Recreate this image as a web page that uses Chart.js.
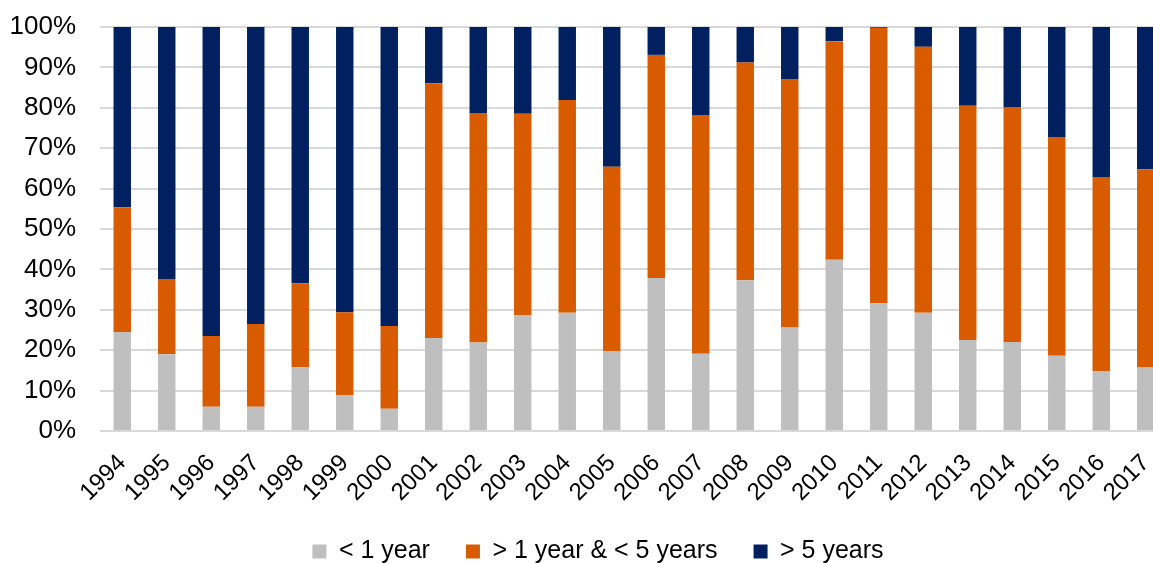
<!DOCTYPE html>
<html>
<head>
<meta charset="utf-8">
<script src="https://cdn.jsdelivr.net/npm/chart.js@4"></script>
<style>
  html, body { margin: 0; padding: 0; background: #fff; overflow: hidden; }
  #wrap { width: 1168px; height: 563px; position: relative; }
</style>
</head>
<body>
<div id="wrap"><canvas id="maturity_chart"></canvas></div>
<script>
const years = ['1994', '1995', '1996', '1997', '1998', '1999', '2000', '2001', '2002', '2003', '2004', '2005',
    '2006', '2007', '2008', '2009', '2010', '2011', '2012', '2013', '2014', '2015', '2016', '2017'];

// share of each maturity bucket, in percent
const underOne = [24.5, 19.0, 6.0, 6.0, 15.8, 8.9, 5.5, 23.0, 21.9, 28.7, 29.3, 19.8,
    37.9, 19.1, 37.3, 25.6, 42.4, 31.6, 29.3, 22.5, 22.0, 18.6, 14.8, 15.7];
const oneToFive = [30.9, 18.6, 17.5, 20.5, 20.8, 20.5, 20.5, 63.1, 56.8, 49.8, 52.6, 45.6,
    55.2, 59.1, 53.9, 61.5, 54.1, 68.2, 65.8, 58.0, 58.2, 54.2, 48.1, 49.1];
const overFive = [44.6, 62.4, 76.5, 73.5, 63.4, 70.6, 74.0, 13.9, 21.3, 21.5, 18.1, 34.6,
    6.9, 21.8, 8.8, 12.9, 3.5, 0.2, 4.9, 19.5, 19.8, 27.2, 37.1, 35.2];

const yTicks = [0, 10, 20, 30, 40, 50, 60, 70, 80, 90, 100];

Chart.defaults.font.family = '"Liberation Sans", Arial, sans-serif';
Chart.defaults.color = '#000';

// nudge the legend a little to the right of the canvas centre
const legendShift = {
    id: 'legendShift',
    afterLayout(chart) {
        chart.legend.left += 14;
        chart.legend.right += 14;
    }
};

document.addEventListener('DOMContentLoaded', function () {
    const ctx = document.getElementById('maturity_chart').getContext('2d');

    new Chart(ctx, {
        type: 'bar',
        data: {
            labels: years,
            datasets: [
                { label: '< 1 year', data: underOne, backgroundColor: '#bfbfbf' },
                { label: '> 1 year & < 5 years', data: oneToFive, backgroundColor: '#d95b00' },
                { label: '> 5 years', data: overFive, backgroundColor: '#002060' }
            ]
        },
        plugins: [legendShift],
        options: {
            responsive: true,
            maintainAspectRatio: false,
            animation: false,
            datasets: {
                bar: { categoryPercentage: 0.8, barPercentage: 0.49 }
            },
            layout: { padding: { left: 0, top: 27, right: 0, bottom: 0 } },
            plugins: {
                tooltip: { enabled: false },
                legend: {
                    position: 'bottom',
                    maxHeight: 60,
                    labels: {
                        font: { size: 25 },
                        boxWidth: 14,
                        boxHeight: 14,
                        padding: 36
                    }
                }
            },
            scales: {
                x: {
                    stacked: true,
                    grid: { display: false, drawTicks: false },
                    border: { display: false },
                    ticks: {
                        font: { size: 24 },
                        autoSkip: false,
                        minRotation: 45,
                        maxRotation: 45,
                        padding: 18
                    },
                    afterFit: function (axis) {
                        axis.paddingLeft = 0;
                        axis.paddingRight = 0;
                        axis.height = 72;
                    }
                },
                y: {
                    stacked: true,
                    min: 0,
                    max: 100,
                    afterBuildTicks: function (axis) {
                        axis.ticks = yTicks.map(v => ({ value: v }));
                    },
                    afterFit: function (axis) {
                        axis.width = 100;
                        axis.paddingTop = 0;
                        axis.paddingBottom = 0;
                    },
                    grid: { color: '#d9d9d9', lineWidth: 2, drawTicks: false },
                    border: { display: false },
                    ticks: {
                        font: { size: 26 },
                        padding: 24,
                        callback: v => v + '%'
                    }
                }
            }
        }
    });
});
</script>
</body>
</html>
